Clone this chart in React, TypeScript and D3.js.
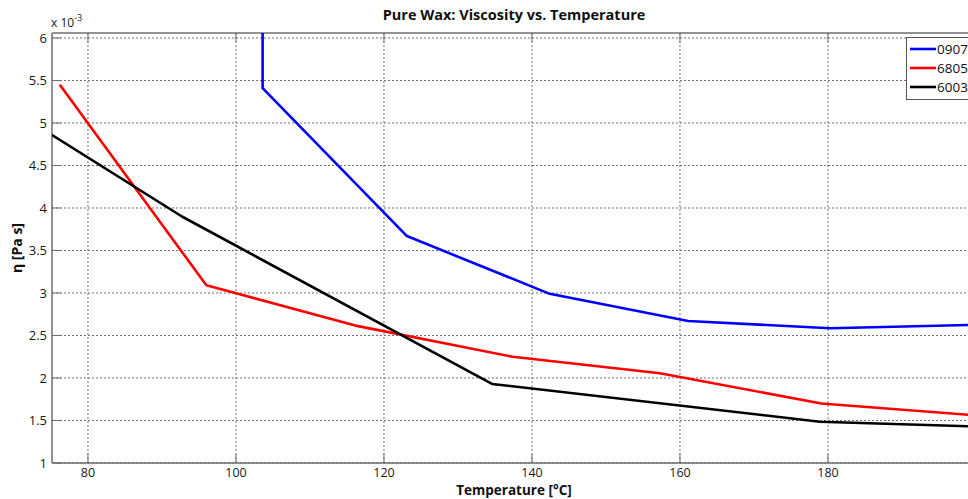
import React from "react";
import * as d3 from "d3";

// Wax samples and their viscosity curves (η in units of 1e-3 Pa·s)
const seriesNames = ["0907", "6805", "6003"];
const seriesColors = ["#0000ff", "#ff0000", "#000000"];

const temp0907 = [103.6, 103.6, 123.1, 142.4, 161.1, 180.3, 200];
const visc0907 = [7.5, 5.41, 3.67, 2.99, 2.67, 2.585, 2.625];

const temp6805 = [76.2, 96.0, 116.5, 137.4, 157.3, 179.1, 200];
const visc6805 = [5.45, 3.09, 2.61, 2.25, 2.055, 1.70, 1.56];

const temp6003 = [75.1, 92.7, 134.6, 178.9, 200];
const visc6003 = [4.86, 3.90, 1.93, 1.486, 1.43];

const xTicks = [80, 100, 120, 140, 160, 180, 200];
const xLabelTicks = [80, 100, 120, 140, 160, 180];
const yTicks = [1, 1.5, 2, 2.5, 3, 3.5, 4, 4.5, 5, 5.5, 6];

const W = 968;
const H = 499;
const FONT = "'Open Sans', 'DejaVu Sans', sans-serif";

export default function App() {
  const left = 52;
  const top = 33;
  const bottom = 463;
  const x = d3.scaleLinear().domain([75.14, 200]).range([left, left + (200 - 75.14) * 7.4]);
  const y = d3.scaleLinear().domain([1, 6.0588]).range([bottom, top]);
  const right = x(200);

  const line = d3
    .line<[number, number]>()
    .x((d) => x(d[0]))
    .y((d) => y(d[1]));

  const series = [
    { t: temp0907, v: visc0907 },
    { t: temp6805, v: visc6805 },
    { t: temp6003, v: visc6003 },
  ];

  const gridColor = "#707070";
  const axisColor = "#6e6e6e";

  return (
    <svg
      width={W}
      height={H}
      style={{ position: "absolute", left: 0, top: 0, background: "#fff" }}
      fontFamily={FONT}
    >
      <defs>
        <clipPath id="plotArea">
          <rect x={left} y={top} width={right - left} height={bottom - top} />
        </clipPath>
      </defs>
      <rect width={W} height={H} fill="#fff" />

      {/* grid */}
      {xTicks.map((t) => (
        <line
          key={"gx" + t}
          x1={x(t)}
          x2={x(t)}
          y1={top}
          y2={bottom}
          stroke={gridColor}
          strokeWidth={1}
          strokeDasharray="2,2"
        />
      ))}
      {yTicks.map((t) => (
        <line
          key={"gy" + t}
          x1={left}
          x2={right}
          y1={y(t)}
          y2={y(t)}
          stroke={gridColor}
          strokeWidth={1}
          strokeDasharray="2,2"
        />
      ))}

      {/* axes box */}
      <line x1={left} x2={right} y1={bottom} y2={bottom} stroke={axisColor} strokeWidth={1.5} />
      <line x1={left} x2={right} y1={top} y2={top} stroke={axisColor} strokeWidth={1.5} />
      <line x1={left} x2={left} y1={top} y2={bottom} stroke={axisColor} strokeWidth={1.5} />

      {/* tick marks */}
      {xTicks.map((t) => (
        <g key={"tx" + t}>
          <line x1={x(t)} x2={x(t)} y1={bottom} y2={bottom - 9} stroke={axisColor} strokeWidth={1} />
          <line x1={x(t)} x2={x(t)} y1={top} y2={top + 9} stroke={axisColor} strokeWidth={1} />
        </g>
      ))}
      {yTicks.map((t) => (
        <line key={"ty" + t} x1={left} x2={left + 9} y1={y(t)} y2={y(t)} stroke={axisColor} strokeWidth={1} />
      ))}

      {/* curves */}
      <g clipPath="url(#plotArea)">
        {series.map((s, i) => (
          <path
            key={seriesNames[i]}
            d={line(s.t.map((t, j) => [t, s.v[j]] as [number, number])) || ""}
            fill="none"
            stroke={seriesColors[i]}
            strokeWidth={2.6}
            strokeLinejoin="round"
          />
        ))}
      </g>

      {/* tick labels */}
      {xLabelTicks.map((t) => (
        <text key={"lx" + t} x={x(t)} y={477} textAnchor="middle" fontSize={12.5} fill="#1a1a1a">
          {t}
        </text>
      ))}
      {yTicks.map((t) => (
        <text key={"ly" + t} x={47} y={y(t) + 5} textAnchor="end" fontSize={13} fill="#1a1a1a">
          {t}
        </text>
      ))}
      <text x={51} y={27} fontSize={12} fill="#1a1a1a">
        x 10
        <tspan dy={-6} fontSize={9}>-3</tspan>
      </text>

      {/* titles */}
      <text x={514} y={20} textAnchor="middle" fontSize={14.5} fontWeight="bold" fill="#111">
        Pure Wax: Viscosity vs. Temperature
      </text>
      <text x={514} y={495} textAnchor="middle" fontSize={13.5} fontWeight="bold" fill="#111">
        Temperature [°C]
      </text>
      <text
        transform={`translate(22, ${(top + bottom) / 2}) rotate(-90)`}
        textAnchor="middle"
        fontSize={14}
        fontWeight="bold"
        fill="#111"
      >
        η [Pa s]
      </text>

      {/* legend */}
      <g>
        <rect x={906.5} y={37.5} width={80} height={62} fill="#fff" stroke="#555" strokeWidth={1} />
        {seriesNames.map((n, i) => {
          const ly = 49 + i * 19;
          return (
            <g key={"lg" + n}>
              <line x1={910} x2={936} y1={ly} y2={ly} stroke={seriesColors[i]} strokeWidth={2.6} />
              <text x={937} y={ly + 5} fontSize={13.5} fill="#111">
                {n}
              </text>
            </g>
          );
        })}
      </g>
    </svg>
  );
}
